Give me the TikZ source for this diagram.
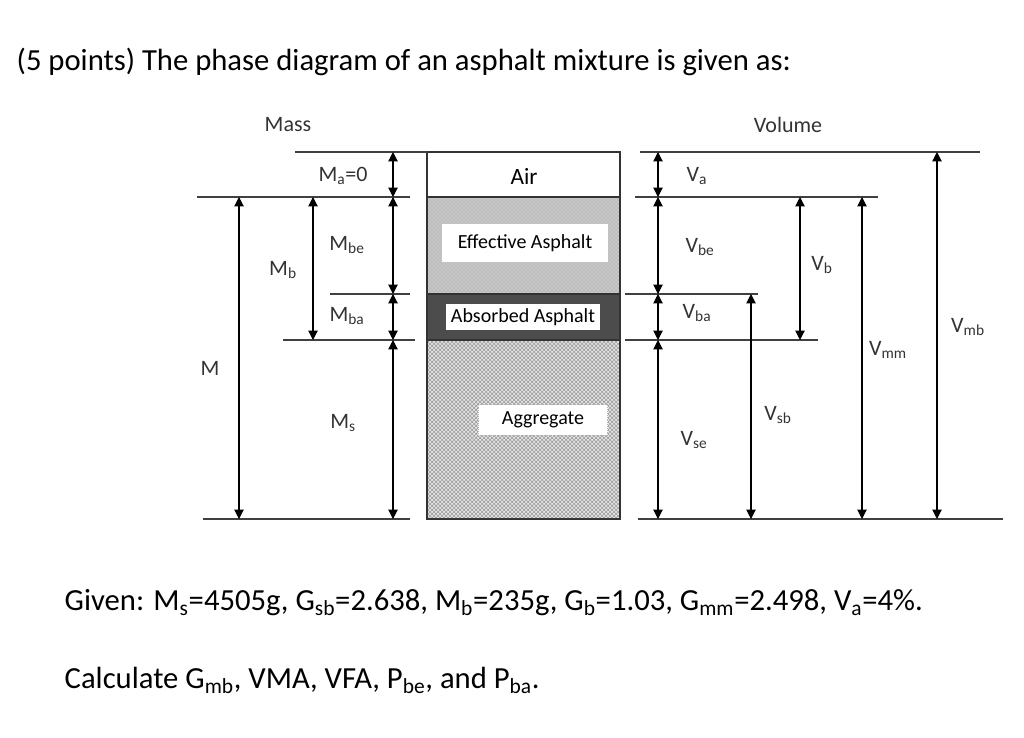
\documentclass[tikz,border=0pt]{standalone}
\usepackage{fontspec}
\setmainfont{Carlito}
\usetikzlibrary{patterns,arrows.meta}
\begin{document}
\begin{tikzpicture}[x=0.75pt,y=-0.75pt,
  ln/.style={line width=0.9pt,draw=black!75},
  dim/.style={line width=0.8pt,{Triangle[width=7pt,length=7pt]}-{Triangle[width=7pt,length=7pt]}},
  lab/.style={font=\fontsize{16.5}{17}\selectfont,text=black!80},
  bx/.style={font=\fontsize{15}{15}\selectfont},
  big/.style={font=\fontsize{23}{24}\selectfont,anchor=west}]
\useasboundingbox (0,0) rectangle (1024,738);
% column
\fill[black!22] (427,197) rectangle (620,294);
\fill[pattern=crosshatch dots,pattern color=black!40] (427,197) rectangle (620,294);
\fill[black!70] (427,294) rectangle (620,340);
\fill[black!10] (427,340) rectangle (620,519);
\fill[pattern=crosshatch,pattern color=black!40] (427,340) rectangle (620,519);
\draw[line width=1pt,black!80] (427,152) rectangle (620,519);
\draw[line width=1pt,black!80] (427,197) -- (620,197) (427,294) -- (620,294) (427,340) -- (620,340);
\node[bx,fill=white,minimum width=124pt,minimum height=28pt] (ea) at (525,243) {Effective Asphalt};
\node[bx,fill=white,minimum width=115pt,minimum height=19pt] (aa) at (523,317) {Absorbed Asphalt};
\node[bx,fill=white,draw=black!30,densely dotted,minimum width=97pt,minimum height=23pt] (ag) at (543,420) {Aggregate};
\node[font=\fontsize{17.5}{18}\selectfont] (air) at (524,176) {Air};
% left lines
\coordinate (l1a) at (295,152); \coordinate (l1b) at (427,152);
\coordinate (l2a) at (197,197); \coordinate (l2b) at (410,197);
\coordinate (l3a) at (330,294); \coordinate (l3b) at (410,294);
\coordinate (l4a) at (283,340); \coordinate (l4b) at (415,340);
\coordinate (l5a) at (203,519); \coordinate (l5b) at (410,519);
\draw[ln] (l1a)--(l1b) (l2a)--(l2b) (l3a)--(l3b) (l4a)--(l4b) (l5a)--(l5b);
\draw[dim] (393,152) -- (393,197);
\draw[dim] (393,197) -- (393,294);
\draw[dim] (393,294) -- (393,340);
\draw[dim] (393,340) -- (393,519);
\draw[dim] (313,197) -- (313,340);
\draw[dim] (239,197) -- (239,519);
% right lines
\coordinate (r1a) at (640,152); \coordinate (r1b) at (980,152);
\coordinate (r2a) at (635,197); \coordinate (r2b) at (878,197);
\coordinate (r3a) at (625,294); \coordinate (r3b) at (758,294);
\coordinate (r4a) at (625,340); \coordinate (r4b) at (818,340);
\coordinate (r5a) at (638,519); \coordinate (r5b) at (1003,519);
\draw[ln] (r1a)--(r1b) (r2a)--(r2b) (r3a)--(r3b) (r4a)--(r4b) (r5a)--(r5b);
\draw[dim] (658,152) -- (658,197);
\draw[dim] (658,197) -- (658,294);
\draw[dim] (658,294) -- (658,340);
\draw[dim] (658,340) -- (658,519);
\draw[dim] (751,294) -- (751,519);
\draw[dim] (800,197) -- (800,340);
\draw[dim] (862,197) -- (862,519);
\draw[dim] (937,152) -- (937,519);
% labels
\node[lab] (mass) at (288,125) {Mass};
\node[lab] (vol) at (788,125) {Volume};
\node[lab] (ma) at (343,176) {M$_\mathrm{a}$=0};
\node[lab] (mbe) at (347,245) {M$_\mathrm{be}$};
\node[lab] (mb) at (283,270) {M$_\mathrm{b}$};
\node[lab] (mba) at (347,316) {M$_\mathrm{ba}$};
\node[lab] (m) at (210,368) {M};
\node[lab] (ms) at (343,423) {M$_\mathrm{s}$};
\node[lab] (va) at (697,176) {V$_\mathrm{a}$};
\node[lab] (vbe) at (700,247) {V$_\mathrm{be}$};
\node[lab] (vb) at (822,265) {V$_\mathrm{b}$};
\node[lab] (vba) at (697,313) {V$_\mathrm{ba}$};
\node[lab] (vmm) at (888,350) {V$_\mathrm{mm}$};
\node[lab] (vmb) at (968,327) {V$_\mathrm{mb}$};
\node[lab] (vsb) at (778,415) {V$_\mathrm{sb}$};
\node[lab] (vse) at (694,440) {V$_\mathrm{se}$};
% text
\node[big] (title) at (12,62) {(5 points) The phase diagram of an asphalt mixture is given as:};
\node[big] (given) at (60,603) {Given: M$_\mathrm{s}$=4505g, G$_\mathrm{sb}$=2.638, M$_\mathrm{b}$=235g, G$_\mathrm{b}$=1.03, G$_\mathrm{mm}$=2.498, V$_\mathrm{a}$=4\%.};
\node[big] (calc) at (60,680) {Calculate G$_\mathrm{mb}$, VMA, VFA, P$_\mathrm{be}$, and P$_\mathrm{ba}$.};
\end{tikzpicture}
\end{document}
